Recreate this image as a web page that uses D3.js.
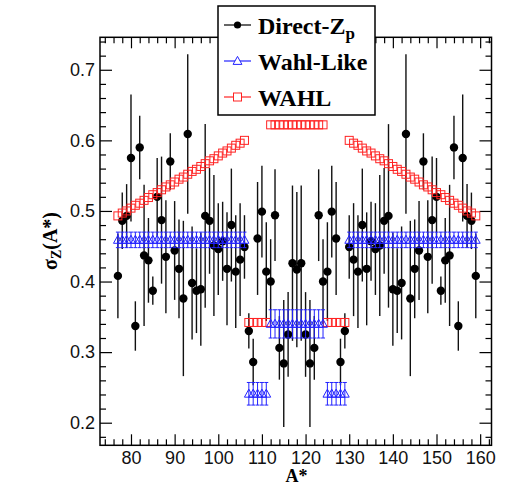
<!DOCTYPE html>
<html>
<head>
<meta charset="utf-8">
<script src="https://cdn.jsdelivr.net/npm/d3@7"></script>
<style>
body { margin: 0; background: #fff; }
.tick text { font-family: "Liberation Sans", Arial, sans-serif; font-size: 18px; fill: #111; }
.tick line { stroke: #000; stroke-width: 1.2; }
</style>
</head>
<body>
<svg id="chart" width="513" height="486"></svg>
<script>
// mass number A* of each point
const massNumbers = [
    77, 78, 79, 80, 81, 82, 83, 84, 85, 86,
    87, 88, 89, 90, 91, 92, 93, 94, 95, 96,
    97, 98, 99, 100, 101, 102, 103, 104, 105, 106,
    107, 108, 109, 110, 111, 112, 113, 114, 115, 116,
    117, 118, 119, 120, 121, 122, 123, 124, 125, 126,
    127, 128, 129, 130, 131, 132, 133, 134, 135, 136,
    137, 138, 139, 140, 141, 142, 143, 144, 145, 146,
    147, 148, 149, 150, 151, 152, 153, 154, 155, 156,
    157, 158, 159
];

// Direct-Zp values + errors
const directZp = [
    0.408, 0.486, 0.493, 0.575, 0.337, 0.590, 0.437, 0.430, 0.387, 0.520,
    0.487, 0.435, 0.570, 0.444, 0.418, 0.376, 0.609, 0.398, 0.387, 0.389,
    0.493, 0.486, 0.451, 0.446, 0.457, 0.418, 0.480, 0.414, 0.431, 0.449,
    0.330, 0.286, 0.461, 0.499, 0.414, 0.400, 0.494, 0.306, 0.284, 0.325,
    0.426, 0.417, 0.426, 0.325, 0.284, 0.306, 0.494, 0.400, 0.414, 0.499,
    0.461, 0.286, 0.330, 0.449, 0.431, 0.414, 0.480, 0.418, 0.457, 0.446,
    0.451, 0.486, 0.493, 0.389, 0.387, 0.398, 0.609, 0.376, 0.418, 0.444,
    0.570, 0.435, 0.487, 0.520, 0.387, 0.430, 0.437, 0.590, 0.337, 0.575,
    0.493, 0.486, 0.408
];
const directZpErr = [
    0.060, 0.040, 0.045, 0.090, 0.035, 0.045, 0.100, 0.060, 0.020, 0.055,
    0.090, 0.080, 0.040, 0.070, 0.070, 0.110, 0.113, 0.080, 0.060, 0.080,
    0.130, 0.075, 0.100, 0.065, 0.056, 0.080, 0.080, 0.080, 0.080, 0.045,
    0.025, 0.033, 0.080, 0.065, 0.070, 0.060, 0.065, 0.045, 0.090, 0.060,
    0.110, 0.110, 0.110, 0.060, 0.090, 0.045, 0.065, 0.060, 0.070, 0.065,
    0.080, 0.033, 0.025, 0.045, 0.080, 0.080, 0.080, 0.080, 0.056, 0.065,
    0.100, 0.075, 0.130, 0.080, 0.060, 0.080, 0.113, 0.110, 0.070, 0.070,
    0.040, 0.080, 0.090, 0.055, 0.020, 0.060, 0.100, 0.045, 0.035, 0.090,
    0.045, 0.040, 0.060
];

// Wahl-Like values + errors
const wahlLike = [
    0.459, 0.459, 0.459, 0.459, 0.459, 0.459, 0.459, 0.459, 0.459, 0.459,
    0.459, 0.459, 0.459, 0.459, 0.459, 0.459, 0.459, 0.459, 0.459, 0.459,
    0.459, 0.459, 0.459, 0.459, 0.459, 0.459, 0.459, 0.459, 0.459, 0.459,
    0.241, 0.241, 0.241, 0.241, 0.241, 0.340, 0.340, 0.340, 0.340, 0.340,
    0.340, 0.340, 0.340, 0.340, 0.340, 0.340, 0.340, 0.340, 0.241, 0.241,
    0.241, 0.241, 0.241, 0.459, 0.459, 0.459, 0.459, 0.459, 0.459, 0.459,
    0.459, 0.459, 0.459, 0.459, 0.459, 0.459, 0.459, 0.459, 0.459, 0.459,
    0.459, 0.459, 0.459, 0.459, 0.459, 0.459, 0.459, 0.459, 0.459, 0.459,
    0.459, 0.459, 0.459
];
const wahlLikeErr = [
    0.011, 0.011, 0.011, 0.011, 0.011, 0.011, 0.011, 0.011, 0.011, 0.011,
    0.011, 0.011, 0.011, 0.011, 0.011, 0.011, 0.011, 0.011, 0.011, 0.011,
    0.011, 0.011, 0.011, 0.011, 0.011, 0.011, 0.011, 0.011, 0.011, 0.011,
    0.016, 0.016, 0.016, 0.016, 0.016, 0.020, 0.020, 0.020, 0.020, 0.020,
    0.020, 0.020, 0.020, 0.020, 0.020, 0.020, 0.020, 0.020, 0.016, 0.016,
    0.016, 0.016, 0.016, 0.011, 0.011, 0.011, 0.011, 0.011, 0.011, 0.011,
    0.011, 0.011, 0.011, 0.011, 0.011, 0.011, 0.011, 0.011, 0.011, 0.011,
    0.011, 0.011, 0.011, 0.011, 0.011, 0.011, 0.011, 0.011, 0.011, 0.011,
    0.011, 0.011, 0.011
];

// WAHL values
const wahl = [
    0.493, 0.497, 0.500, 0.504, 0.508, 0.511, 0.515, 0.519, 0.523, 0.526,
    0.530, 0.534, 0.537, 0.541, 0.545, 0.548, 0.552, 0.556, 0.559, 0.563,
    0.567, 0.571, 0.574, 0.578, 0.582, 0.585, 0.589, 0.593, 0.596, 0.600,
    0.342, 0.342, 0.342, 0.342, 0.342, 0.622, 0.622, 0.622, 0.622, 0.622,
    0.622, 0.622, 0.622, 0.622, 0.622, 0.622, 0.622, 0.622, 0.342, 0.342,
    0.342, 0.342, 0.342, 0.600, 0.596, 0.593, 0.589, 0.585, 0.582, 0.578,
    0.574, 0.571, 0.567, 0.563, 0.559, 0.556, 0.552, 0.548, 0.545, 0.541,
    0.537, 0.534, 0.530, 0.526, 0.523, 0.519, 0.515, 0.511, 0.508, 0.504,
    0.500, 0.497, 0.493
];

const xTicks = [80, 90, 100, 110, 120, 130, 140, 150, 160];
const xMinorTicks = [74, 76, 78, 82, 84, 86, 88, 92, 94, 96, 98, 102, 104, 106, 108,
    112, 114, 116, 118, 122, 124, 126, 128, 132, 134, 136, 138, 142, 144, 146, 148,
    152, 154, 156, 158, 162];
const yTicks = [0.2, 0.3, 0.4, 0.5, 0.6, 0.7];
const yMinorTicks = [0.18, 0.22, 0.24, 0.26, 0.28, 0.32, 0.34, 0.36, 0.38, 0.42, 0.44,
    0.46, 0.48, 0.52, 0.54, 0.56, 0.58, 0.62, 0.64, 0.66, 0.68, 0.72, 0.74];
const legendNames = ["Direct-Z", "Wahl-Like", "WAHL"];

let points = massNumbers.map(function (a, i) {
    return {
        a: a,
        zp: directZp[i], zpErr: directZpErr[i],
        like: wahlLike[i], likeErr: wahlLikeErr[i],
        wahl: wahl[i]
    };
});

let svg = d3.select('#chart');
let frameL = 100, frameR = 491.5, frameT = 37.3, frameB = 445.3;

let x = d3.scaleLinear().domain([72.9, 162.6]).range([frameL, frameR]);
let y = d3.scaleLinear().domain([0.168, 0.746]).range([frameB, frameT]);

// axes (ROOT style: ticks inside, on all four sides)
svg.append('g').attr('transform', `translate(0,${frameB})`)
    .call(d3.axisBottom(x).tickValues(xTicks).tickSize(-11).tickPadding(6).tickFormat(d3.format('d')))
    .call(g => g.select('.domain').remove());
svg.append('g').attr('transform', `translate(0,${frameB})`)
    .call(d3.axisBottom(x).tickValues(xMinorTicks).tickSize(-6).tickFormat(''))
    .call(g => g.select('.domain').remove());
svg.append('g').attr('transform', `translate(0,${frameT})`)
    .call(d3.axisTop(x).tickValues(xTicks).tickSize(-11).tickFormat(''))
    .call(g => g.select('.domain').remove());
svg.append('g').attr('transform', `translate(0,${frameT})`)
    .call(d3.axisTop(x).tickValues(xMinorTicks).tickSize(-6).tickFormat(''))
    .call(g => g.select('.domain').remove());

svg.append('g').attr('transform', `translate(${frameL},0)`)
    .call(d3.axisLeft(y).tickValues(yTicks).tickSize(-12).tickPadding(5).tickFormat(d3.format('.1f')))
    .call(g => g.select('.domain').remove());
svg.append('g').attr('transform', `translate(${frameL},0)`)
    .call(d3.axisLeft(y).tickValues(yMinorTicks).tickSize(-6).tickFormat(''))
    .call(g => g.select('.domain').remove());
svg.append('g').attr('transform', `translate(${frameR},0)`)
    .call(d3.axisRight(y).tickValues(yTicks).tickSize(-12).tickFormat(''))
    .call(g => g.select('.domain').remove());
svg.append('g').attr('transform', `translate(${frameR},0)`)
    .call(d3.axisRight(y).tickValues(yMinorTicks).tickSize(-6).tickFormat(''))
    .call(g => g.select('.domain').remove());

// frame
svg.append('rect')
    .attr('x', frameL).attr('y', frameT)
    .attr('width', frameR - frameL).attr('height', frameB - frameT)
    .attr('fill', 'none').attr('stroke', '#000').attr('stroke-width', 1.5);

let trianglePath = 'M0,-4.6L4.4,3.4L-4.4,3.4Z';

// Direct-Zp
let plot = svg.append('g');
plot.selectAll('line.zp-err')
    .data(points)
    .enter().append('line')
    .attr('class', 'zp-err')
    .attr('x1', d => x(d.a)).attr('x2', d => x(d.a))
    .attr('y1', d => y(d.zp - d.zpErr)).attr('y2', d => y(d.zp + d.zpErr))
    .attr('stroke', '#111').attr('stroke-width', 1.4);
plot.selectAll('circle.zp')
    .data(points)
    .enter().append('circle')
    .attr('class', 'zp')
    .attr('cx', d => x(d.a)).attr('cy', d => y(d.zp))
    .attr('r', 4.2)
    .attr('fill', '#000');

// WAHL
plot.selectAll('rect.wahl')
    .data(points)
    .enter().append('rect')
    .attr('class', 'wahl')
    .attr('x', d => x(d.a) - 4).attr('y', d => y(d.wahl) - 4)
    .attr('width', 8).attr('height', 8)
    .attr('fill', 'none').attr('stroke', '#f22').attr('stroke-width', 1);

// Wahl-Like
let like = plot.selectAll('g.like')
    .data(points)
    .enter().append('g')
    .attr('class', 'like')
    .attr('transform', d => `translate(${x(d.a)},0)`);
like.append('line')
    .attr('y1', d => y(d.like - d.likeErr)).attr('y2', d => y(d.like + d.likeErr))
    .attr('stroke', '#22f').attr('stroke-width', 1);
like.append('line')
    .attr('x1', -2).attr('x2', 2)
    .attr('y1', d => y(d.like + d.likeErr)).attr('y2', d => y(d.like + d.likeErr))
    .attr('stroke', '#22f').attr('stroke-width', 1);
like.append('line')
    .attr('x1', -2).attr('x2', 2)
    .attr('y1', d => y(d.like - d.likeErr)).attr('y2', d => y(d.like - d.likeErr))
    .attr('stroke', '#22f').attr('stroke-width', 1);
like.append('path')
    .attr('d', trianglePath)
    .attr('transform', d => `translate(0,${y(d.like)})`)
    .attr('fill', 'none').attr('stroke', '#22f').attr('stroke-width', 1);

// axis titles
svg.append('text')
    .attr('x', 296.5).attr('y', 482)
    .attr('text-anchor', 'middle')
    .style('font-family', '"Liberation Serif", "Times New Roman", serif')
    .style('font-weight', 'bold').style('font-size', '18px')
    .text('A*');

let yTitle = svg.append('text')
    .attr('transform', 'translate(57,241) rotate(-90)')
    .attr('text-anchor', 'middle')
    .style('font-family', '"Liberation Serif", "Times New Roman", serif')
    .style('font-weight', 'bold').style('font-size', '20px');
yTitle.append('tspan').text('σ');
yTitle.append('tspan').attr('dy', 4).style('font-size', '14px').text('Z');
yTitle.append('tspan').attr('dy', -4).text('(A*)');

// legend
let legend = svg.append('g');
legend.append('rect')
    .attr('x', 218).attr('y', 6).attr('width', 157).attr('height', 109)
    .attr('fill', '#fff').attr('stroke', '#000').attr('stroke-width', 1.5);

let rowY = [25, 61, 97];
let colors = ['#000', '#22f', '#f22'];
legendNames.forEach(function (name, i) {
    legend.append('line')
        .attr('x1', 224).attr('x2', 251)
        .attr('y1', rowY[i]).attr('y2', rowY[i])
        .attr('stroke', colors[i]).attr('stroke-width', 1.2);
    if (i === 0) {
        legend.append('circle').attr('cx', 237.5).attr('cy', rowY[i]).attr('r', 3.6).attr('fill', '#000');
    } else if (i === 1) {
        legend.append('path').attr('d', trianglePath)
            .attr('transform', `translate(237.5,${rowY[i]})`)
            .attr('fill', '#fff').attr('stroke', '#22f');
    } else {
        legend.append('rect').attr('x', 233.5).attr('y', rowY[i] - 4).attr('width', 8).attr('height', 8)
            .attr('fill', '#fff').attr('stroke', '#f22');
    }
    let t = legend.append('text')
        .attr('x', 258).attr('y', rowY[i] + 8.5)
        .style('font-family', '"Liberation Serif", "Times New Roman", serif')
        .style('font-weight', 'bold').style('font-size', '24px')
        .text(name);
    if (i === 0) {
        t.append('tspan').attr('dy', 5).style('font-size', '17px').text('p');
    }
});
</script>
</body>
</html>
